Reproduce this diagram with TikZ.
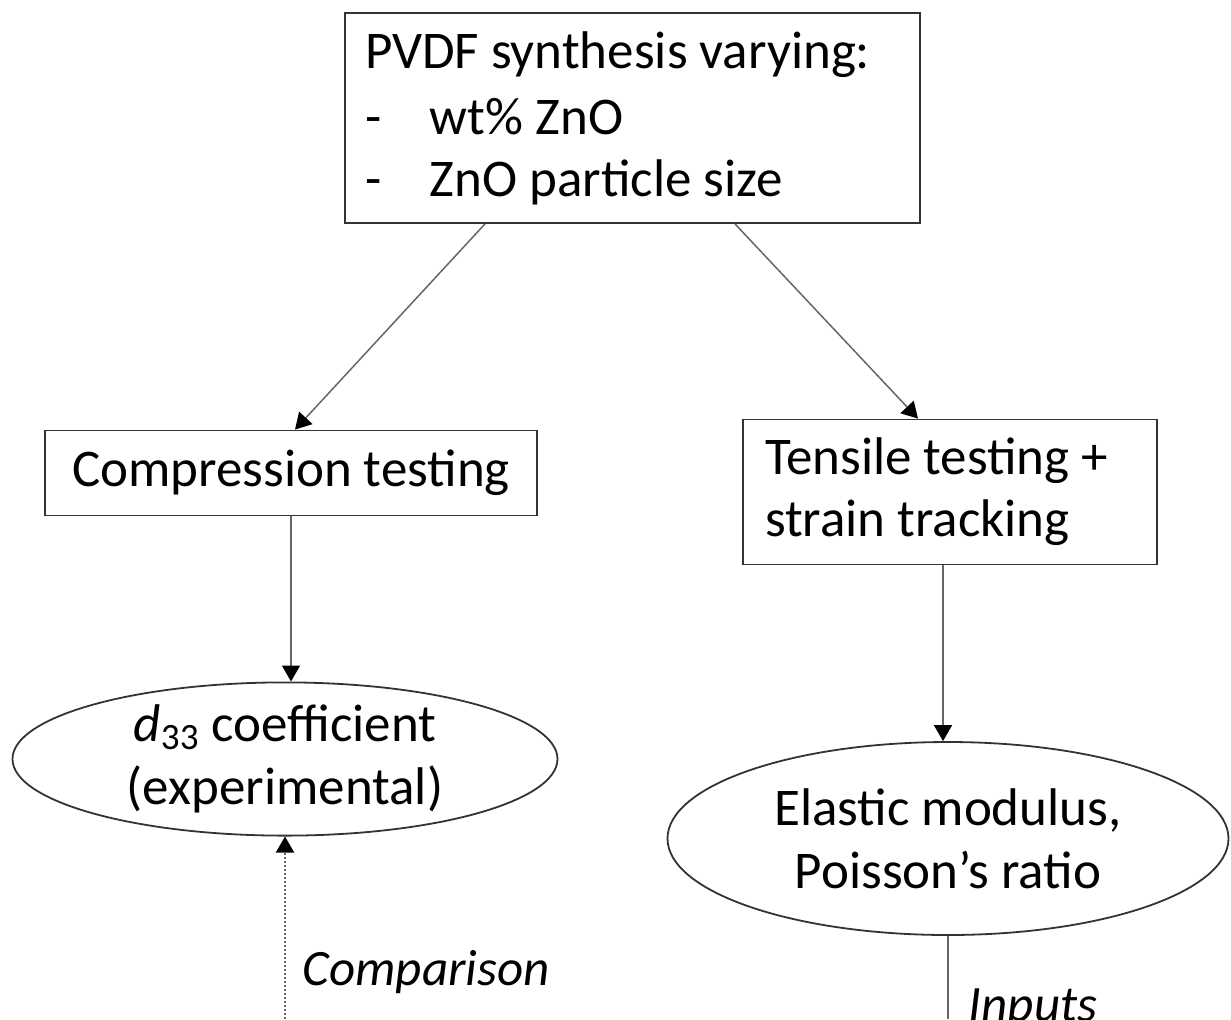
\documentclass[tikz,border=0pt]{standalone}
\usepackage{fontspec}
\setmainfont{Carlito}
\usetikzlibrary{
	arrows.meta,
	shapes.geometric,
	positioning,
	calc,
}
\tikzset{stagebox/.style={
		% The shape:
		rectangle,
		% The border:
		draw=black!80,
		line width=0.9pt,
		fill=white,
		% the text:
		font=\fontsize{26.5}{31}\selectfont,
		inner xsep=10pt,
		% keep the font's own word spaces in ragged text
		execute at begin node={\spaceskip=0pt\xspaceskip=0pt},
}}
\tikzset{resultbubble/.style={
		% The shape:
		ellipse,
		inner sep=0pt,
		% The border:
		draw=black!80,
		line width=0.9pt,
		fill=white,
		% the text:
		font=\fontsize{26.5}{31.5}\selectfont,
		align=center,
}}
\tikzset{flowlabel/.style={
		font=\fontsize{25.5}{31}\selectfont\itshape,
		inner sep=0pt,
}}

\begin{document}
\begin{tikzpicture}[x=0.5pt,y=-0.5pt,>={Triangle[length=8pt,width=9pt,black]},
	line width=0.75pt,black!60,text=black]
	\useasboundingbox (0,0) rectangle (1231,1019);
	\clip (0,0) rectangle (1231,1019);
	% the boxes
	\node [stagebox,minimum width=287.5pt,minimum height=105pt,text width=267.5pt,align=left] (synth) at (632.5,118) {\vspace{2pt}PVDF synthesis varying:\\
		\makebox[32.5pt][l]{-}wt\% ZnO\\
		\makebox[32.5pt][l]{-}ZnO particle size};
	\node [stagebox,minimum width=246pt,minimum height=42.5pt,align=center] (comp) at (291,473) {Compression testing};
	\node [stagebox,minimum width=207pt,minimum height=72.5pt,text width=185pt,align=left] (tens) at (950,492) {Tensile testing +\\strain tracking};
	% the results
	\node [resultbubble,minimum width=272.5pt,minimum height=64pt] (dcoef) at (285,759) {\textit{d}\textsubscript{33} coefficient\\(experimental)};
	\node [resultbubble,minimum width=280.5pt,minimum height=96.5pt] (elastic) at (948,838.5) {Elastic modulus,\\Poisson’s ratio};
	% loose ends at the bottom
	\coordinate (cmpfoot) at (285,1019);
	\coordinate (inpfoot) at (943,1019);
	\coordinate (tensfoot) at ($ (tens.south) + (-7,0) $);
	% the connectors
	\draw [->] ($ (synth.south) + (-147.5,0) $) -- ($ (comp.north) + (4,0) $);
	\draw [->] ($ (synth.south) + (102.5,0) $) -- ($ (tens.north) + (-32,0) $);
	\draw [->] (comp.south) -- (comp.south |- dcoef.north);
	\draw [->] (tensfoot) -- (tensfoot |- elastic.north);
	\draw [->,densely dotted,line width=1pt] (cmpfoot) -- (dcoef.south);
	\draw (inpfoot -| elastic.south) -- (elastic.south);
	% the labels
	\node [flowlabel,anchor=base west] (cmplabel) at (302,985) {Comparison};
	\node [flowlabel,anchor=base west] (inplabel) at (968,1021) {Inputs};
\end{tikzpicture}
\end{document}
